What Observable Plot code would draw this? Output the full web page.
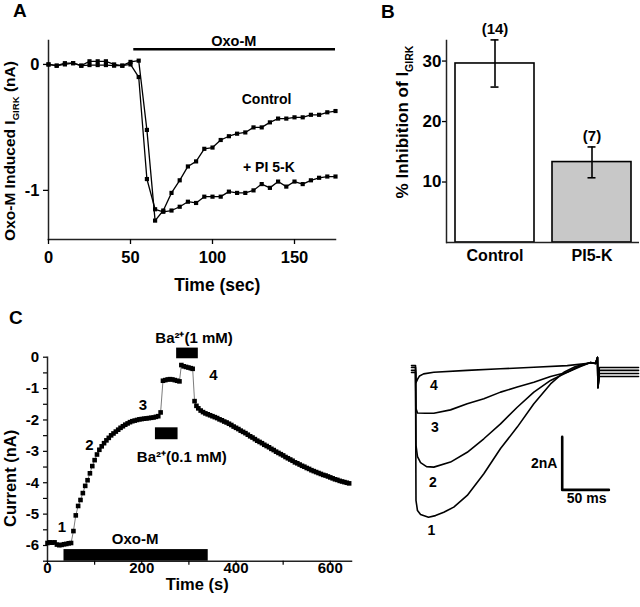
<!DOCTYPE html>
<html><head><meta charset="utf-8">
<script src="https://cdn.jsdelivr.net/npm/d3@7"></script>
<script src="https://cdn.jsdelivr.net/npm/@observablehq/plot@0.6"></script>
<style>
body{margin:0;background:#fff;}
#fig{position:relative;width:640px;height:607px;overflow:hidden;background:#fff;font-family:"Liberation Sans",Arial,sans-serif;font-weight:bold;color:#000;}
#fig svg{position:absolute;}
.letter{position:absolute;font-size:19px;font-weight:bold;line-height:1;}
</style></head><body><div id="fig"></div>
<script>
// ---------- Panel A data ----------
const timeA = [0,5,10,15,20,25,30,35,40,45,50,55,60,65,70,75,80,85,90,95,100,105,110,115,120,125,130,135,140,145,150,155,160,165,170,175];
const controlA = [0,-0.01,0.01,0.01,-0.01,0.025,0.025,0.025,0,-0.01,0.02,0.03,-0.52,-1.24,-1.16,-1.02,-0.92,-0.81,-0.77,-0.67,-0.66,-0.60,-0.57,-0.55,-0.54,-0.50,-0.50,-0.46,-0.43,-0.43,-0.42,-0.42,-0.40,-0.40,-0.38,-0.37];
const pi5kA = [0,-0.01,0,0.01,-0.01,-0.005,-0.005,-0.005,-0.01,-0.01,0,-0.10,-0.91,-1.15,-1.17,-1.16,-1.13,-1.09,-1.10,-1.05,-1.05,-1.05,-1.01,-1.02,-1.02,-1.00,-0.95,-0.98,-0.93,-0.97,-0.93,-0.95,-0.92,-0.90,-0.89,-0.89];
const seriesNamesA = ["Control", "+ PI 5-K"];
const oxoIntervalA = [52, 175];
const xTicksA = [0, 50, 100, 150];
const yTicksA = [0, -1];

// ---------- Panel B data ----------
const catsB = ["Control", "PI5-K"];
const meanB = [29.6, 13.3];
const hiB = [33.5, 15.8];
const loB = [25.7, 10.7];
const nB = ["(14)", "(7)"];
const yTicksB = [10, 20, 30];

// ---------- Panel C data ----------
const timeC = [0,5,10,15,20,25,30,35,40,45,50,55,60,65,70,75,80,85,90,95,100,105,110,115,120,125,130,135,140,145,150,155,160,165,170,175,180,185,190,195,200,205,210,215,220,225,230,235,240,245,250,255,260,265,270,275,280,284,289,294,299,304,308,312,316,320,325,330,335,340,345,350,355,360,365,370,375,380,385,390,395,400,405,410,415,420,425,430,435,440,445,450,455,460,465,470,475,480,485,490,495,500,505,510,515,520,525,530,535,540,545,550,555,560,565,570,575,580,585,590,595,600,605,610,615,620,625,630,635,640];
const currentC = [-5.92,-5.90,-5.91,-5.90,-5.97,-5.99,-5.98,-5.96,-5.95,-5.93,-5.92,-5.54,-5.04,-4.74,-4.55,-4.33,-4.10,-3.92,-3.70,-3.47,-3.28,-3.10,-2.95,-2.84,-2.74,-2.65,-2.57,-2.49,-2.43,-2.37,-2.31,-2.25,-2.20,-2.15,-2.11,-2.07,-2.04,-2.02,-2.00,-1.98,-1.97,-1.96,-1.95,-1.94,-1.93,-1.92,-1.90,-1.88,-1.76,-0.75,-0.73,-0.71,-0.70,-0.71,-0.73,-0.75,-0.77,-0.25,-0.29,-0.31,-0.33,-0.35,-0.37,-1.40,-1.55,-1.63,-1.70,-1.75,-1.79,-1.82,-1.85,-1.88,-1.91,-1.94,-1.98,-2.01,-2.05,-2.08,-2.12,-2.16,-2.21,-2.25,-2.29,-2.34,-2.38,-2.42,-2.47,-2.52,-2.56,-2.61,-2.66,-2.70,-2.74,-2.79,-2.83,-2.87,-2.92,-2.96,-3.01,-3.05,-3.09,-3.13,-3.18,-3.22,-3.26,-3.30,-3.35,-3.38,-3.42,-3.46,-3.49,-3.53,-3.56,-3.60,-3.63,-3.66,-3.69,-3.72,-3.75,-3.77,-3.80,-3.83,-3.86,-3.89,-3.91,-3.94,-3.96,-3.98,-4.00,-4.02];
const drugNamesC = ["Oxo-M", "Ba\u00B2\u207A(0.1 mM)", "Ba\u00B2\u207A(1 mM)"];
const drugStartC = [35, 229, 274];
const drugEndC = [341, 277, 320];
const sweepLabelsC = ["1", "2", "3", "4"];
const xTicksC = [0,100,200,300,400,500,600];
const xLabelsC = [0,200,400,600];
const yTicksC = [0,-0.5,-1,-1.5,-2,-2.5,-3,-3.5,-4,-4.5,-5,-5.5,-6,-6.5];

// ---------- Current traces (ms, nA) ----------
const sweep1T = [-4.3,0,0.5,2.1,5.4,13.9,21.4,30.3,41.0,55.4,73.2,91.1,109.0,126.8,144.7,159.0,171.5,187.6,193,195,195.5,197,239];
const sweep1I = [-0.34,-0.34,-5.17,-5.55,-5.70,-5.80,-5.74,-5.61,-5.42,-4.98,-4.16,-3.21,-2.40,-1.52,-0.77,-0.33,-0.11,0.04,0.0,0.23,-0.91,-0.49,-0.49];
const sweep2T = [-4.3,0,0.5,2.1,5.4,11.8,19.6,37.5,55.4,73.2,91.1,109.0,126.8,144.7,162.6,174.7,187.6,193,195,195.5,197,239];
const sweep2I = [-0.26,-0.26,-3.09,-3.51,-3.74,-3.89,-3.91,-3.72,-3.35,-2.84,-2.28,-1.65,-1.08,-0.64,-0.33,-0.11,0.04,0.0,0.23,-0.91,-0.38,-0.38];
const sweep3T = [-4.3,0,0.5,2.1,10.7,19.6,37.5,55.4,73.2,91.1,109.0,126.8,144.7,162.6,176.8,187.6,193,195,195.5,197,239];
const sweep3I = [-0.15,-0.15,-1.70,-1.87,-1.88,-1.88,-1.75,-1.52,-1.33,-1.08,-0.89,-0.71,-0.49,-0.33,-0.11,0.04,0.0,0.23,-0.91,-0.26,-0.26];
const sweep4T = [-4.3,0,0.5,2.1,4.3,8.6,19.6,55.4,91.1,126.8,162.6,187.6,193,195,195.5,197,239];
const sweep4I = [-0.08,-0.08,-0.72,-0.60,-0.47,-0.39,-0.33,-0.26,-0.20,-0.14,-0.08,0.02,0.0,0.23,-0.91,-0.15,-0.15];
const scaleBarMs = 50;
const scaleBarNA = 2;

// ---------- helpers ----------
const fontR = '"Liberation Sans", Arial, Helvetica, sans-serif';
const fontN = '"Liberation Sans Narrow", "Arial Narrow", "Liberation Sans", Arial, sans-serif';
const fig = document.getElementById("fig");
function place(svg, left, top) { svg.style.left = left + "px"; svg.style.top = top + "px"; fig.appendChild(svg); return svg; }
function baseStyle(family) { return {fontFamily: family, fontWeight: "bold", fontSize: "16px", background: "transparent", overflow: "visible", color: "black"}; }
function rotLabel(svg, x, y, parts, size) {
  const t = d3.select(svg).append("text")
    .attr("transform", `translate(${x},${y}) rotate(-90)`)
    .attr("text-anchor", "middle").attr("y", size * 0.35)
    .attr("font-size", size).attr("font-weight", "bold").attr("font-family", fontR).attr("fill", "black");
  let shifted = false;
  for (const p of parts) {
    const ts = t.append("tspan").text(p.text);
    if (p.sub) { ts.attr("font-size", size * 0.62).attr("dy", size * 0.28); shifted = true; }
    else if (shifted) { ts.attr("dy", -size * 0.28); shifted = false; }
  }
}
function letter(txt, left, top) { const d = document.createElement("div"); d.className = "letter"; d.textContent = txt; d.style.left = left + "px"; d.style.top = top + "px"; fig.appendChild(d); }

// ---------- Panel A ----------
const rowsA = timeA.flatMap((t, i) => [{t, v: controlA[i], s: seriesNamesA[0]}, {t, v: pi5kA[i], s: seriesNamesA[1]}]);
const plotA = Plot.plot({
  width: 350, height: 300, marginLeft: 48, marginRight: 15, marginTop: 40, marginBottom: 61,
  style: baseStyle(fontR),
  x: {domain: [0, 175]}, y: {domain: [-1.39, 0.19]},
  marks: [
    Plot.frame({anchor: "left", stroke: "#222", strokeWidth: 1.5}),
    Plot.frame({anchor: "bottom", stroke: "#222", strokeWidth: 1.5}),
    Plot.axisY({ticks: yTicksA, tickFormat: d => String(d), tickSize: 5, tickPadding: 4, fontSize: 16.5, label: null, strokeWidth: 1.3}),
    Plot.axisX({ticks: xTicksA, tickFormat: d => String(d), tickSize: 5, tickPadding: 7, fontSize: 16.5, label: null, strokeWidth: 1.3}),
    Plot.line(rowsA, {x: "t", y: "v", z: "s", stroke: "black", strokeWidth: 1.3}),
    Plot.dot(rowsA, {x: "t", y: "v", symbol: "square", r: 2.35, fill: "black"}),
    Plot.ruleY([0.12], {x1: oxoIntervalA[0], x2: oxoIntervalA[1], stroke: "black", strokeWidth: 2.6}),
    Plot.text(["Oxo-M"], {text: d => d, x: 113, y: 0.184, fontSize: 14.5}),
    Plot.text([seriesNamesA[0]], {text: d => d, x: 133, y: -0.28, fontSize: 14}),
    Plot.text([seriesNamesA[1]], {text: d => d, x: 134.4, y: -0.815, fontSize: 14}),
    Plot.text(["Time (sec)"], {text: d => d, x: 102.9, y: -1.754, fontSize: 17.5})
  ]
});
place(plotA, 0, 0);
rotLabel(plotA, 9.5, 151, [{text: "Oxo-M Induced I"}, {text: "GIRK", sub: true}, {text: " (nA)"}], 15.5);

// ---------- Panel B ----------
const rowsB = catsB.map((c, i) => ({c, m: meanB[i], lo: loB[i], hi: hiB[i], n: nB[i]}));
const plotB = Plot.plot({
  width: 270, height: 300, marginLeft: 76, marginRight: 1, marginTop: 40, marginBottom: 58,
  style: baseStyle(fontR),
  x: {domain: catsB, paddingInner: 0.19, paddingOuter: 0.08},
  y: {domain: [0, 33.4]},
  marks: [
    Plot.barY(rowsB, {x: "c", y: "m", fill: "white", stroke: "black", strokeWidth: 1.6, filter: d => d.c === catsB[0]}),
    Plot.barY(rowsB, {x: "c", y: "m", fill: "#c8c8c8", stroke: "black", strokeWidth: 1.6, filter: d => d.c === catsB[1]}),
    Plot.frame({anchor: "left", stroke: "#222", strokeWidth: 1.5}),
    Plot.ruleY([0], {stroke: "#222", strokeWidth: 1.5}),
    Plot.ruleX(rowsB, {x: "c", y1: "lo", y2: "hi", stroke: "black", strokeWidth: 1.6}),
    Plot.tickY(rowsB, {x: "c", y: "hi", insetLeft: 35.5, insetRight: 35.5, stroke: "black", strokeWidth: 1.6}),
    Plot.tickY(rowsB, {x: "c", y: "lo", insetLeft: 35.5, insetRight: 35.5, stroke: "black", strokeWidth: 1.6}),
    Plot.text(rowsB, {x: "c", y: "hi", text: "n", dy: -11, fontSize: 15}),
    Plot.axisY({ticks: yTicksB, tickFormat: d => String(d), tickSize: 4, tickPadding: 1, fontSize: 17, label: null, strokeWidth: 1.3}),
    Plot.axisX({tickSize: 0, tickPadding: 7, fontSize: 16, label: null})
  ]
});
place(plotB, 370, 0);
rotLabel(plotB, 32, 122, [{text: "% Inhibition of I"}, {text: "GIRK", sub: true}], 17);

// ---------- Panel C ----------
const rowsC = timeC.map((t, i) => ({t, v: currentC[i]}));
const drugs = drugNamesC.map((name, i) => ({name, start: drugStartC[i], end: drugEndC[i]}));
const plotC = Plot.plot({
  width: 360, height: 307, marginLeft: 47, marginRight: 9, marginTop: 56.7, marginBottom: 46.3,
  style: baseStyle(fontN),
  x: {domain: [0, 645]}, y: {domain: [-6.5, 0]},
  marks: [
    Plot.frame({anchor: "left", stroke: "#222", strokeWidth: 1.5}),
    Plot.frame({anchor: "bottom", stroke: "#222", strokeWidth: 1.5}),
    Plot.axisY({ticks: yTicksC, tickFormat: d => Number.isInteger(d) ? String(d) : "", tickSize: 4, tickPadding: 4.5, fontSize: 15, label: null, strokeWidth: 1.2}),
    Plot.axisX({ticks: xTicksC, tickFormat: () => "", tickSize: 4, label: null, strokeWidth: 1.2}),
    Plot.axisX({ticks: xLabelsC, tickFormat: d => String(d), tickSize: 0, tickPadding: 1, fontSize: 15, label: null}),
    Plot.rect(drugs.slice(0, 1), {x1: "start", x2: "end", y1: -6.5, y2: -6.13, fill: "black"}),
    Plot.rect(drugs.slice(1, 2), {x1: "start", x2: "end", y1: -2.63, y2: -2.25, fill: "black"}),
    Plot.rect(drugs.slice(2, 3), {x1: "start", x2: "end", y1: -0.05, y2: 0.29, fill: "black"}),
    Plot.line(rowsC, {x: "t", y: "v", stroke: "#444", strokeWidth: 0.7}),
    Plot.dot(rowsC, {x: "t", y: "v", symbol: "square", r: 2.6, fill: "black"}),
    Plot.text([drugNamesC[0]], {text: d => d, x: 186, y: -5.81, fontSize: 15}),
    Plot.text([drugNamesC[1]], {text: d => d, x: 285, y: -3.18, fontSize: 15}),
    Plot.text([drugNamesC[2]], {text: d => d, x: 311, y: 0.62, fontSize: 15}),
    Plot.text([sweepLabelsC[0]], {text: d => d, x: 30.6, y: -5.41, fontSize: 15}),
    Plot.text([sweepLabelsC[1]], {text: d => d, x: 89, y: -2.81, fontSize: 15}),
    Plot.text([sweepLabelsC[2]], {text: d => d, x: 202.5, y: -1.52, fontSize: 15}),
    Plot.text([sweepLabelsC[3]], {text: d => d, x: 352, y: -0.58, fontSize: 15}),
    Plot.text(["Time (s)"], {text: d => d, x: 317.7, y: -7.24, fontSize: 16.5}),
    Plot.text(["Current (nA)"], {text: d => d, x: -78.1, y: -3.86, rotate: -90, fontSize: 16.5, fontFamily: fontR})
  ]
});
place(plotC, 0, 300);

// ---------- Current traces ----------
const sweeps = [[sweep1T, sweep1I], [sweep2T, sweep2I], [sweep3T, sweep3I], [sweep4T, sweep4I]];
const rowsT = sweeps.flatMap(([T, I], k) => T.map((t, i) => ({t, v: I[i], k: sweepLabelsC[k]})));
const barOrigin = {t: 157.2, v: -4.77};
const scaleBar = [
  {t: barOrigin.t, v: barOrigin.v + scaleBarNA},
  {t: barOrigin.t, v: barOrigin.v},
  {t: barOrigin.t + scaleBarMs, v: barOrigin.v}
];
const plotT = Plot.plot({
  width: 240, height: 220, marginLeft: 0, marginRight: 0, marginTop: 0, marginBottom: 0,
  style: baseStyle(fontR),
  x: {domain: [-16.1, 241.1], axis: null}, y: {domain: [-7.434, 0.868], axis: null},
  marks: [
    Plot.line(rowsT, {x: "t", y: "v", z: "k", stroke: "black", strokeWidth: 1.6}),
    Plot.line(scaleBar, {x: "t", y: "v", stroke: "black", strokeWidth: 2.6}),
    Plot.text([scaleBarNA + "nA"], {text: d => d, x: 152, y: -3.77, textAnchor: "end", fontSize: 14}),
    Plot.text([scaleBarMs + " ms"], {text: d => d, x: 183.3, y: -5.09, fontSize: 14}),
    Plot.text([sweepLabelsC[3]], {text: d => d, x: 19.7, y: -0.83, fontSize: 14}),
    Plot.text([sweepLabelsC[2]], {text: d => d, x: 20.8, y: -2.43, fontSize: 14}),
    Plot.text([sweepLabelsC[1]], {text: d => d, x: 18.6, y: -4.5, fontSize: 14}),
    Plot.text([sweepLabelsC[0]], {text: d => d, x: 16.9, y: -6.32, fontSize: 14})
  ]
});
place(plotT, 400, 340);

letter("A", 13, 1);
letter("B", 381, 2);
letter("C", 9, 308);
</script></body></html>
